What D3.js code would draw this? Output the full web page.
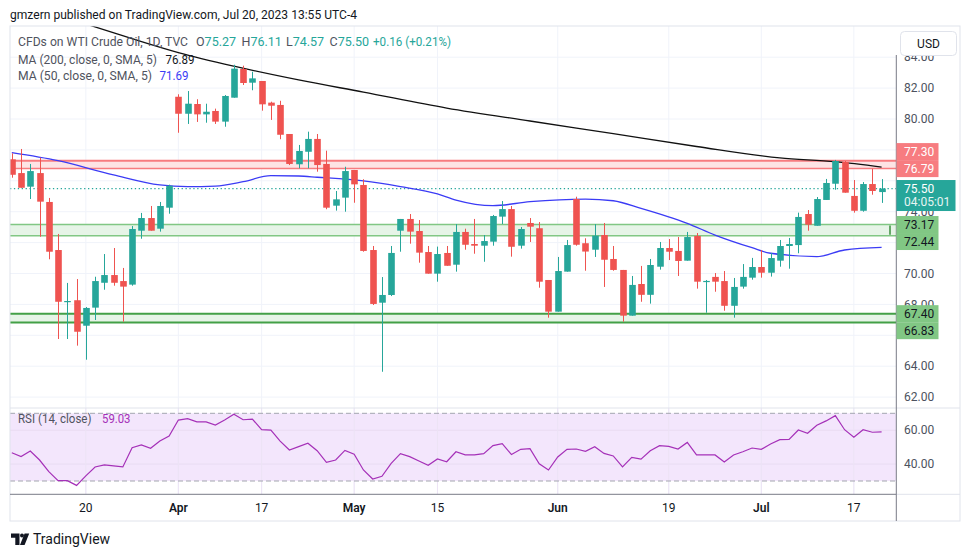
<!DOCTYPE html>
<html><head><meta charset="utf-8">
<script src="https://cdn.jsdelivr.net/npm/d3@7"></script>
<style>html,body{margin:0;padding:0;background:#fff;}svg{display:block;font-family:Roboto,"Noto Sans",sans-serif;}</style>
</head><body><svg id="c" width="970" height="557"></svg>
<script>
// ---------- DATA ----------
const opens  = [77.39,76.50,75.62,76.50,74.63,71.52,68.17,68.27,66.62,67.79,69.40,69.90,69.51,69.28,72.77,73.59,72.90,74.26,
81.44,80.34,80.97,80.30,80.52,79.83,81.38,83.24,82.35,82.46,81.06,80.91,79.03,77.07,77.88,78.71,77.09,74.39,74.91,
76.70,75.73,71.52,68.11,68.61,72.77,73.53,72.75,71.39,69.99,71.33,70.57,72.69,71.91,71.80,72.06,73.68,74.17,71.80,73.27,72.93,69.58,
67.53,70.12,74.82,71.96,71.54,72.49,70.94,70.23,67.27,69.32,68.62,70.44,71.65,71.46,70.83,72.43,69.48,69.78,69.51,67.91,69.15,69.73,
70.42,70.05,70.83,71.78,71.84,73.85,73.09,74.76,75.81,77.22,75.02,74.06,75.79,75.27];
const highs  = [77.78,78.06,77.09,77.50,74.89,72.56,69.39,69.64,67.83,69.79,71.26,71.65,70.36,73.07,73.92,74.37,74.63,75.75,
81.60,81.81,81.28,80.99,80.67,81.55,83.51,83.45,83.06,82.46,81.12,81.18,79.03,78.32,79.18,79.03,77.95,75.34,76.91,
76.70,76.10,71.78,69.77,71.78,73.53,73.85,73.46,71.78,71.74,71.78,73.20,72.90,73.53,72.49,73.79,74.69,74.37,73.01,73.59,73.33,69.58,
71.07,72.17,74.97,72.28,73.20,73.27,71.78,70.23,69.84,70.49,70.94,72.04,72.23,72.36,72.69,72.62,69.58,70.03,70.16,69.71,70.61,71.01,
71.52,71.33,72.17,72.30,73.94,74.11,74.95,76.12,77.35,77.28,76.05,75.92,76.78,76.11];
const lows   = [76.20,75.55,74.82,72.38,70.92,65.76,65.76,65.33,64.42,66.99,68.95,69.21,66.88,69.21,72.25,72.77,72.71,73.87,
79.11,79.68,79.81,79.76,79.68,79.50,81.38,82.20,81.86,80.54,79.94,78.69,77.02,76.81,76.81,76.59,74.16,74.07,74.00,
74.58,71.41,67.96,63.64,68.54,71.41,71.93,70.70,69.99,69.47,70.50,70.12,71.54,71.28,70.76,71.80,73.20,71.09,71.61,72.04,69.08,67.14,
67.53,70.12,71.80,70.18,71.07,69.13,70.18,66.88,67.27,68.17,68.05,70.25,70.87,69.84,70.83,69.02,67.46,68.82,67.59,67.14,69.02,69.60,
69.73,69.80,70.44,70.31,71.31,72.77,73.09,74.76,75.42,75.23,73.94,74.00,75.10,74.57];
const closes = [76.39,75.55,76.63,74.65,71.41,68.17,68.22,66.23,67.77,69.51,69.90,69.40,69.15,72.88,73.59,72.77,74.37,75.68,
80.34,80.99,80.30,80.47,79.83,81.49,83.26,82.33,82.63,80.95,80.86,78.98,77.09,77.93,78.71,77.02,74.26,74.80,76.63,
75.77,71.46,68.03,68.61,71.33,73.53,72.71,71.35,69.99,71.26,70.50,72.69,71.86,71.80,72.10,73.72,74.17,71.73,72.88,73.03,69.47,67.53,
70.16,71.84,71.86,71.42,72.45,70.89,70.23,67.27,69.26,68.62,70.55,71.65,71.41,70.81,72.36,69.47,69.52,69.47,67.91,69.13,69.78,70.42,
70.05,71.00,71.78,71.91,73.66,73.16,74.82,75.86,77.28,75.23,74.06,75.79,75.34,75.50];
const rsi = [46.7,44.4,47.7,42.4,35.5,30.2,30.2,27.4,33.0,38.3,39.5,38.9,38.3,49.7,51.3,49.3,53.6,56.6,
66.0,66.8,64.9,64.9,63.1,66.0,69.4,66.2,66.6,60.3,60.1,53.6,48.3,50.3,52.3,47.9,41.0,42.4,48.1,
45.8,36.5,31.2,32.8,40.4,46.2,44.4,41.8,39.3,43.0,41.4,47.3,45.4,45.4,46.2,50.9,52.1,45.6,48.7,49.1,40.2,36.5,
44.2,48.7,48.9,47.5,50.3,46.3,44.8,38.3,44.0,42.9,47.9,50.9,50.5,48.9,52.8,45.4,45.4,45.4,41.2,45.4,47.3,49.5,
48.7,51.9,54.4,54.6,60.1,58.2,62.9,65.5,68.6,60.3,55.8,60.3,58.8,59.03];
const ma200Idx = [8,13,18,24,31,38,47,56,65,74,83,89,94];
const ma200Val = [86.15,85.2,84.3,83.42,82.53,81.74,80.71,79.87,79.05,78.22,77.48,77.24,76.89];
const ma50Idx = [0,5,11,16,19,22,25,28,31,33,38,42,46,48,52,56,62,65,68,73,76,80,82,87,90,94];
const ma50Val = [77.82,77.30,76.38,75.73,75.62,75.66,75.94,76.33,76.31,76.23,75.99,75.62,75.15,74.75,74.39,74.65,74.82,74.71,74.22,73.25,72.49,71.67,71.31,71.09,71.52,71.69];
const tickIdx = [8,18,27,37,46,59,71,81,91];
const tickLabels = ['20','Apr','17','May','15','Jun','19','Jul','17'];
const tickIsMonth = [false,true,false,true,false,true,false,true,false];
const priceTicks = [62,64,66,68,70,72,74,76,78,80,82,84];
const rsiTicks = [40,60];
const redZone = [77.30,76.79];
const greenZoneHi = [73.17,72.44];
const greenZoneLo = [67.40,66.83];
const lastPrice = 75.50;
const change = '+0.16 (+0.21%)';
const countdown = '04:05:01';

// ---------- LAYOUT ----------
const svg = d3.select('#c');
const L=10, R=896, TOP=26, MAINB=408, RSIT=408, AXT=494.3, BOT=521, RIGHT=960;
const x = d3.scaleLinear().domain([0,94]).range([11.8,881.6]);
const y = d3.scaleLinear().domain([62,84]).range([397.1,57.2]);
const yr = d3.scaleLinear().domain([30,70]).range([481,413.3]);
const up='#26a69a', dn='#ef5350';

svg.append('rect').attr('width',970).attr('height',557).attr('fill','#fff');
const defs = svg.append('defs');
defs.append('clipPath').attr('id','mainclip').append('rect').attr('x',L).attr('y',TOP).attr('width',R-L).attr('height',MAINB-TOP);
defs.append('clipPath').attr('id','rsiclip').append('rect').attr('x',L).attr('y',RSIT).attr('width',R-L).attr('height',AXT-RSIT);

// grid
const grid = svg.append('g');
grid.selectAll('.vg').data(tickIdx).join('line').attr('x1',d=>x(d)).attr('x2',d=>x(d)).attr('y1',TOP).attr('y2',AXT).attr('stroke','#f0f3fa').attr('stroke-width',1);
grid.selectAll('.hg').data(priceTicks).join('line').attr('x1',L).attr('x2',R).attr('y1',d=>y(d)).attr('y2',d=>y(d)).attr('stroke','#f0f3fa');

// RSI pane
const rg = svg.append('g').attr('clip-path','url(#rsiclip)');
rg.append('rect').attr('x',L).attr('width',R-L).attr('y',yr(70)).attr('height',yr(30)-yr(70)).attr('fill','#f3e6fc');
rg.selectAll('.rsig').data(rsiTicks).join('line').attr('x1',L).attr('x2',R).attr('y1',d=>yr(d)).attr('y2',d=>yr(d)).attr('stroke','#e9dcf2');
rg.selectAll('.vr').data(tickIdx).join('line').attr('x1',d=>x(d)).attr('x2',d=>x(d)).attr('y1',RSIT).attr('y2',AXT).attr('stroke','#ece3f5');
[70,30].forEach(v=>rg.append('line').attr('x1',L).attr('x2',R).attr('y1',yr(v)).attr('y2',yr(v)).attr('stroke','#a3a6af').attr('stroke-dasharray','5,3'));
rg.append('path').datum(rsi).attr('fill','none').attr('stroke','#a531b8').attr('stroke-width',1.2)
  .attr('d',d3.line().x((d,i)=>x(i)).y(d=>yr(d)));

// main pane
const mg = svg.append('g').attr('clip-path','url(#mainclip)');
function zone(vals, fill, stroke, w1, w2){
  mg.append('rect').attr('x',L).attr('width',R-L).attr('y',y(vals[0])).attr('height',y(vals[1])-y(vals[0])).attr('fill',fill);
  mg.append('line').attr('x1',L).attr('x2',R).attr('y1',y(vals[0])).attr('y2',y(vals[0])).attr('stroke',stroke).attr('stroke-width',w1);
  mg.append('line').attr('x1',L).attr('x2',R).attr('y1',y(vals[1])).attr('y2',y(vals[1])).attr('stroke',stroke).attr('stroke-width',w2);
}
zone(redZone,'#fde4e5','#f77c80',2,1.5);
zone(greenZoneHi,'#e6f4e7','#81c784',1.5,1.5);
zone(greenZoneLo,'#e6f4e7','#43a047',2,2);
mg.append('line').attr('x1',890).attr('x2',890).attr('y1',y(greenZoneHi[0])+1).attr('y2',y(greenZoneHi[1])-1).attr('stroke','#388e3c').attr('stroke-width',1.5);
mg.append('line').attr('x1',L).attr('x2',R).attr('y1',y(lastPrice)).attr('y2',y(lastPrice)).attr('stroke',up).attr('stroke-width',1.2).attr('stroke-dasharray','1.3,2.6');

const ml = d3.line().curve(d3.curveMonotoneX);
mg.append('path').attr('fill','none').attr('stroke','#3b3bf5').attr('stroke-width',1.3)
  .attr('d',ml(ma50Idx.map((d,i)=>[x(d),y(ma50Val[i])])));
mg.append('path').attr('fill','none').attr('stroke','#111').attr('stroke-width',1.3)
  .attr('d',ml(ma200Idx.map((d,i)=>[x(d),y(ma200Val[i])])));

const bw = 6.6;
const cg = mg.append('g');
const cd = opens.map((o,i)=>({i,o,h:highs[i],l:lows[i],c:closes[i]}));
cg.selectAll('.w').data(cd).join('line').attr('x1',d=>Math.round(x(d.i))+0.5).attr('x2',d=>Math.round(x(d.i))+0.5)
  .attr('y1',d=>y(d.h)).attr('y2',d=>y(d.l)).attr('stroke',d=>d.c>=d.o?up:dn).attr('stroke-width',1);
cg.selectAll('.b').data(cd).join('rect').attr('x',d=>Math.round(x(d.i))+0.5-bw/2).attr('width',bw)
  .attr('y',d=>y(Math.max(d.o,d.c))).attr('height',d=>Math.max(1.2,Math.abs(y(d.o)-y(d.c))))
  .attr('fill',d=>d.c>=d.o?up:dn);

// frame & axes lines
svg.append('line').attr('x1',L).attr('x2',RIGHT).attr('y1',MAINB).attr('y2',MAINB).attr('stroke','#e0e3eb');
svg.append('rect').attr('x',L).attr('y',TOP).attr('width',RIGHT-L).attr('height',BOT-TOP).attr('fill','none').attr('stroke','#e0e3eb');
svg.append('line').attr('x1',L).attr('x2',R).attr('y1',AXT).attr('y2',AXT).attr('stroke','#787b86');
svg.append('line').attr('x1',R).attr('x2',RIGHT).attr('y1',AXT).attr('y2',AXT).attr('stroke','#e0e3eb');
svg.append('line').attr('x1',R+0.3).attr('x2',R+0.3).attr('y1',55).attr('y2',BOT).attr('stroke','#787b86');

// price label boxes (layout first, so hidden axis ticks can be skipped)
const boxes = [];
const yRed2 = y(redZone[1]), yRed1 = yRed2-17;
boxes.push([yRed1, redZone[0].toFixed(2), '#f77c80','#fff',42]);
boxes.push([yRed2, redZone[1].toFixed(2), '#f77c80','#fff',42]);
const yG1 = y(greenZoneHi[0]), yG2 = Math.max(y(greenZoneHi[1]), yG1+17);
boxes.push([yG1, greenZoneHi[0].toFixed(2), '#81c784','#131722',42]);
boxes.push([yG2, greenZoneHi[1].toFixed(2), '#81c784','#131722',42]);
const yL1 = y(greenZoneLo[0]), yL2 = Math.max(y(greenZoneLo[1]), yL1+17);
boxes.push([yL1, greenZoneLo[0].toFixed(2), '#81c784','#131722',42]);
boxes.push([yL2, greenZoneLo[1].toFixed(2), '#81c784','#131722',42]);
const yp = y(lastPrice);
const covered = v => { const t=y(v); return boxes.some(b=>t>=b[0]-8.5 && t<=b[0]+8.5) || (t>=yp-8.5 && t<=yp+22.5); };

// price axis labels
const pa = svg.append('g').attr('font-size',12).attr('fill','#4c525e');
pa.selectAll('text').data(priceTicks.filter(v=>!covered(v))).join('text').attr('x',904).attr('y',d=>y(d)).attr('dy','0.35em').text(d=>d.toFixed(2));
pa.selectAll('.r').data(rsiTicks).join('text').attr('x',904).attr('y',d=>yr(d)).attr('dy','0.35em').text(d=>d.toFixed(2));
svg.append('rect').attr('x',R+1).attr('y',TOP+1).attr('width',RIGHT-R-2).attr('height',55-TOP-1).attr('fill','#fff');

boxes.forEach(([yc,txt,bg,fg,w])=>{
  svg.append('rect').attr('x',R+0.5).attr('y',yc-8.5).attr('width',w).attr('height',17).attr('fill',bg);
  svg.append('text').attr('x',904).attr('y',yc).attr('dy','0.35em').attr('font-size',12).attr('fill',fg).text(txt);
});
svg.append('rect').attr('x',R+0.5).attr('y',yp-8.5).attr('width',59).attr('height',31).attr('fill',up);
svg.append('text').attr('x',904).attr('y',yp).attr('dy','0.35em').attr('font-size',12).attr('fill','#fff').text(lastPrice.toFixed(2));
svg.append('text').attr('x',904).attr('y',yp+13.5).attr('dy','0.35em').attr('font-size',12).attr('fill','#e6f5f3').text(countdown);

// time axis labels
svg.append('g').attr('font-size',12).attr('fill','#131722').selectAll('text').data(tickIdx).join('text')
  .attr('x',d=>x(d)).attr('y',508).attr('dy','0.35em').attr('text-anchor','middle')
  .attr('font-weight',(d,i)=>tickIsMonth[i]?600:400).text((d,i)=>tickLabels[i]);

// USD button
svg.append('rect').attr('x',900.5).attr('y',31.5).attr('width',56).attr('height',24).attr('rx',4).attr('fill','#fff').attr('stroke','#e0e3eb');
svg.append('text').attr('x',928.5).attr('y',44).attr('dy','0.35em').attr('text-anchor','middle').attr('font-size',12).attr('fill','#131722').text('USD');

// legends
function tx(x0, y0, s, fill, size, len){
  const t = svg.append('text').attr('x',x0).attr('y',y0).attr('dy','0.35em').attr('font-size',size).attr('fill',fill).text(s);
  if(len) t.attr('textLength',len).attr('lengthAdjust','spacingAndGlyphs');
  return t;
}
tx(10,15,'gmzern published on TradingView.com, Jul 20, 2023 13:55 UTC-4','#131722',12.5,347);
const gray='#50535e';
tx(18,42,'CFDs on WTI Crude Oil, 1D, TVC',gray,12.5,170);
[['O',opens[94],196],['H',highs[94],241.5],['L',lows[94],286],['C',closes[94],329.5]].forEach(([k,v,px])=>{
  const t = svg.append('text').attr('x',px).attr('y',42).attr('dy','0.35em').attr('font-size',12.5).attr('fill',gray);
  t.append('tspan').text(k);
  t.append('tspan').attr('fill',up).text(v.toFixed(2));
});
tx(373,42,change,up,12.5,78);
tx(18,59.5,'MA (200, close, 0, SMA, 5)',gray,12.5,139);
tx(165.5,59.5,ma200Val[ma200Val.length-1].toFixed(2),'#131722',12.5,29);
tx(18,76,'MA (50, close, 0, SMA, 5)',gray,12.5,134);
tx(159.5,76,ma50Val[ma50Val.length-1].toFixed(2),'#3b3bf5',12.5,29);
tx(18,419,'RSI (14, close)',gray,12.5,73.5);
tx(102,419,rsi[94].toFixed(2),'#a531b8',12.5,28.5);

// footer
const f = svg.append('g').attr('fill','#131722');
f.append('path').attr('d','M11 533.5 h8.5 v11.5 h-4.2 v-7.3 h-4.3 z');
f.append('circle').attr('cx',22).attr('cy',535.6).attr('r',2);
f.append('path').attr('d','M24.6 533.5 h4.6 l-4.6 11.5 h-4.6 z');
svg.append('text').attr('x',33).attr('y',539.5).attr('dy','0.35em').attr('font-size',14).attr('fill','#131722').text('TradingView');
</script></body></html>
